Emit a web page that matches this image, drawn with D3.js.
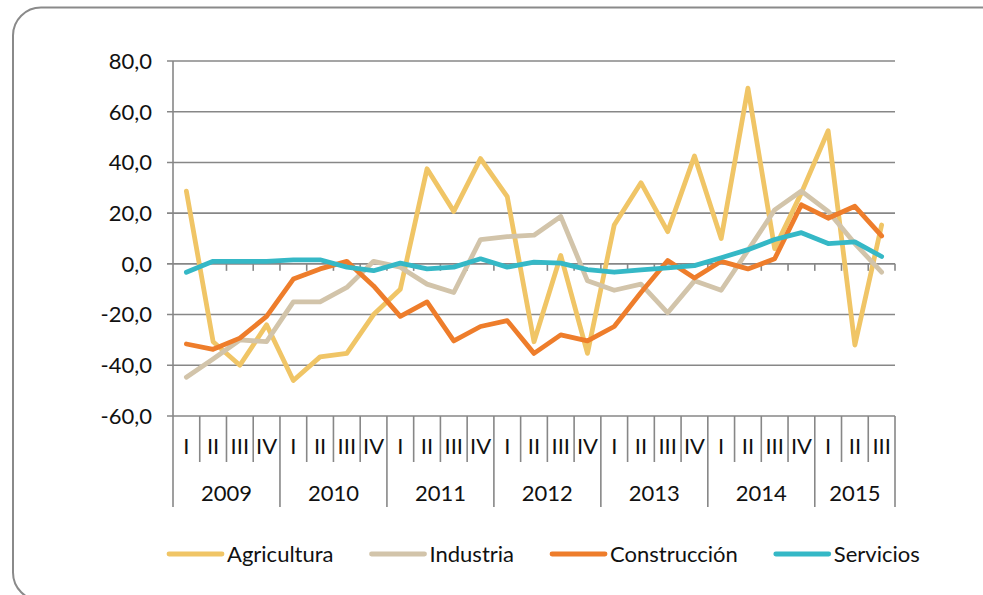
<!DOCTYPE html>
<html>
<head>
<meta charset="utf-8">
<script src="https://cdnjs.cloudflare.com/ajax/libs/d3/7.8.5/d3.min.js"></script>
<style>
  html, body { margin: 0; padding: 0; background: #fff; overflow: hidden; }
  svg { display: block; font-family: Lato, "Open Sans", sans-serif; }
</style>
</head>
<body>
<div id="chart"></div>
<script>
// categories
var years = ["2009", "2010", "2011", "2012", "2013", "2014", "2015"];
var quartersPerYear = [4, 4, 4, 4, 4, 4, 3];
var quarterNames = ["I", "II", "III", "IV"];
var yTicks = [-60, -40, -20, 0, 20, 40, 60, 80];

// series values
var agricultura = [28.7, -30.7, -40, -24, -46, -36.7, -35.3, -20, -10, 37.5, 20.7, 41.5, 26.5, -30.7,
                   3.3, -35.3, 15.3, 32, 12.7, 42.5, 10, 69.3, 6, 28, 52.5, -32, 15.3];
var industria = [-44.7, -37.5, -30, -30.7, -15, -15, -9.3, 1, -1.3, -8, -11.3, 9.6, 10.7, 11.3,
                 18.7, -6.7, -10.4, -8, -19.3, -6.7, -10.4, 5.3, 21.3, 28.7, 20.7, 8, -3.3];
var construccion = [-31.6, -33.7, -29.3, -20.7, -6, -2, 1, -8.7, -20.7, -15, -30.4, -24.7, -22.4, -35.3,
                    -28, -30.4, -24.7, -11.3, 1.3, -5.6, 1, -2, 2, 23.3, 18, 22.7, 11];
var servicios = [-3.3, 1, 1, 1, 1.6, 1.6, -1.3, -2.7, 0.3, -2, -1.3, 2, -1.3, 0.7,
                 0.3, -2.3, -3.3, -2.4, -1.6, -0.7, 2.4, 5.6, 9.6, 12.3, 8, 8.7, 2.9];

var seriesNames = ["Agricultura", "Industria", "Construcción", "Servicios"];
var seriesColors = ["#f0c566", "#d2c4aa", "#ee7d2b", "#35b8c6"];
var seriesValues = [agricultura, industria, construccion, servicios];

// build the category list (year + quarter)
var cats = [];
years.forEach(function(yr, yi) {
  for (var q = 0; q < quartersPerYear[yi]; q++) {
    cats.push({ id: yr + "-" + q, year: yr, quarter: quarterNames[q] });
  }
});

var width = 983, height = 595;
var plotLeft = 173, plotRight = 895, plotTop = 61, plotBottom = 416;
var fontSize = 22;

var svg = d3.select("#chart").append("svg")
  .attr("width", width)
  .attr("height", height);

// outer frame
svg.append("rect")
  .attr("x", 13).attr("y", 7.5)
  .attr("width", 1000).attr("height", 593)
  .attr("rx", 28).attr("ry", 28)
  .attr("fill", "none")
  .attr("stroke", "#8a8a8a")
  .attr("stroke-width", 2);

var x = d3.scaleBand()
  .domain(cats.map(function(d) { return d.id; }))
  .range([plotLeft, plotRight])
  .paddingInner(0).paddingOuter(0);

var y = d3.scaleLinear()
  .domain([-60, 80])
  .range([plotBottom, plotTop]);

var grid = "#878787";

// gridlines
svg.append("g").selectAll("line")
  .data(yTicks)
  .enter().append("line")
  .attr("x1", plotLeft - 6).attr("x2", plotRight)
  .attr("y1", function(d) { return y(d); })
  .attr("y2", function(d) { return y(d); })
  .attr("stroke", grid)
  .attr("stroke-width", 1.6);

// y labels (comma decimal, plain hyphen)
svg.append("g").selectAll("text")
  .data(yTicks)
  .enter().append("text")
  .attr("x", 152)
  .attr("y", function(d) { return y(d); })
  .attr("dy", "0.36em")
  .attr("text-anchor", "end")
  .attr("font-size", fontSize)
  .attr("fill", "#111")
  .text(function(d) { return d.toFixed(1).replace(".", ","); });

// vertical axis line (down to the bottom of the year labels)
svg.append("line")
  .attr("x1", plotLeft).attr("x2", plotLeft)
  .attr("y1", plotTop).attr("y2", 507)
  .attr("stroke", grid).attr("stroke-width", 1.6);

// small ticks on the zero line
var bw = x.bandwidth();
svg.append("g").selectAll("line")
  .data(cats)
  .enter().append("line")
  .attr("x1", function(d) { return x(d.id) + bw; })
  .attr("x2", function(d) { return x(d.id) + bw; })
  .attr("y1", y(0)).attr("y2", y(0) + 7)
  .attr("stroke", grid).attr("stroke-width", 1.6);

// category separators under the axis
svg.append("g").selectAll("line")
  .data(cats)
  .enter().append("line")
  .attr("x1", function(d) { return x(d.id) + bw; })
  .attr("x2", function(d) { return x(d.id) + bw; })
  .attr("y1", plotBottom)
  .attr("y2", function(d, i) {
    var next = cats[i + 1];
    return (!next || next.year !== d.year) ? 507 : 462;
  })
  .attr("stroke", grid).attr("stroke-width", 1.6);

// quarter labels
svg.append("g").selectAll("text")
  .data(cats)
  .enter().append("text")
  .attr("x", function(d) { return x(d.id) + bw / 2; })
  .attr("y", 446)
  .attr("dy", "0.36em")
  .attr("text-anchor", "middle")
  .attr("font-size", fontSize)
  .attr("fill", "#111")
  .text(function(d) { return d.quarter; });

// year labels
svg.append("g").selectAll("text")
  .data(years)
  .enter().append("text")
  .attr("x", function(d) {
    var ys = cats.filter(function(c) { return c.year === d; });
    return (x(ys[0].id) + x(ys[ys.length - 1].id) + bw) / 2;
  })
  .attr("y", 493)
  .attr("dy", "0.36em")
  .attr("text-anchor", "middle")
  .attr("font-size", fontSize)
  .attr("fill", "#111")
  .text(function(d) { return d; });

// lines
var line = d3.line()
  .x(function(d, i) { return x(cats[i].id) + bw / 2; })
  .y(function(d) { return y(d); });

svg.append("g").selectAll("path")
  .data(seriesValues)
  .enter().append("path")
  .attr("d", line)
  .attr("fill", "none")
  .attr("stroke", function(d, i) { return seriesColors[i]; })
  .attr("stroke-width", 4.8)
  .attr("stroke-linejoin", "round")
  .attr("stroke-linecap", "round");

// legend
var legend = svg.append("g");
var lx = 169, ly = 554;
seriesNames.forEach(function(name, i) {
  legend.append("line")
    .attr("x1", lx).attr("x2", lx + 53)
    .attr("y1", ly).attr("y2", ly)
    .attr("stroke", seriesColors[i])
    .attr("stroke-width", 4.8)
    .attr("stroke-linecap", "round");
  var t = legend.append("text")
    .attr("x", lx + 58)
    .attr("y", ly)
    .attr("dy", "0.36em")
    .attr("font-size", fontSize)
    .attr("fill", "#111")
    .text(name);
  lx = lx + 58 + t.node().getComputedTextLength() + 38;
});
</script>
</body>
</html>
